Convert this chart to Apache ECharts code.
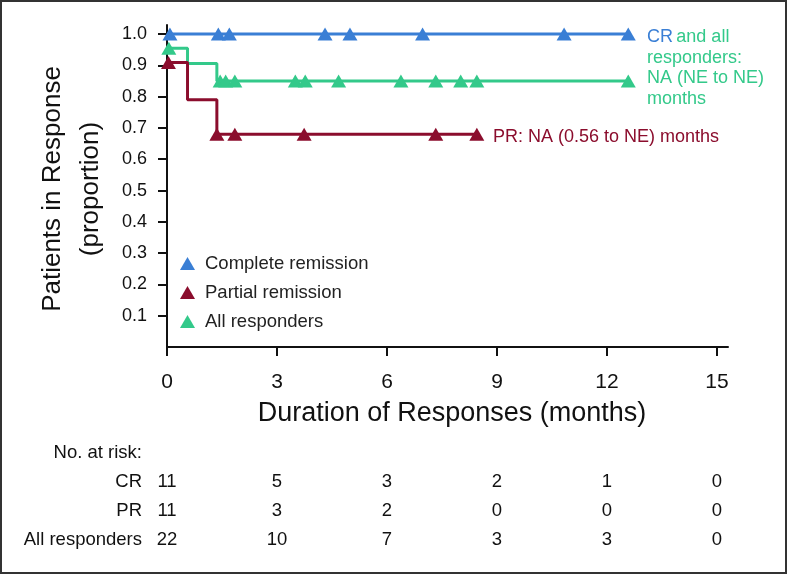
<!DOCTYPE html>
<html>
<head>
<meta charset="utf-8">
<script src="https://cdn.jsdelivr.net/npm/echarts@6/dist/echarts.min.js"></script>
<style>
html,body{margin:0;padding:0;background:#fff;}
#c{width:787px;height:574px;}
</style>
</head>
<body>
<div id="c"></div>
<script>
// ---- data ----
const xTicks = [0, 3, 6, 9, 12, 15];
const yTicks = [0.1, 0.2, 0.3, 0.4, 0.5, 0.6, 0.7, 0.8, 0.9, 1.0];

const crStepTimes = [0, 12.58];
const crStepSurv = [1.0, 1.0];
const crCensorTimes = [0.08, 1.4, 1.7, 4.31, 4.99, 6.97, 10.83, 12.58];

const prStepTimes = [0, 0.56, 1.36, 8.45];
const prStepSurv = [0.909, 0.79, 0.68, 0.68];
const prCensorTimes = [0.04, 1.36, 1.85, 3.74, 7.33, 8.45];

const allStepTimes = [0, 0.56, 1.36, 12.58];
const allStepSurv = [0.955, 0.906, 0.85, 0.85];
const allCensorTimes = [0.05, 1.45, 1.6, 1.85, 3.5, 3.77, 4.68, 6.38, 7.33, 8.01, 8.45, 12.58];

const riskLabels = ['CR', 'PR', 'All responders'];
const riskCR = [11, 5, 3, 2, 1, 0];
const riskPR = [11, 3, 2, 0, 0, 0];
const riskAll = [22, 10, 7, 3, 3, 0];

// ---- helpers ----
const BLUE = '#3a7fd5', RED = '#8b0d2d', GREEN = '#33c98a';
const SANS = "'Liberation Sans', Arial, Helvetica, sans-serif";

function steps(times, surv) { return times.map((t, i) => [t, surv[i]]); }
function survAt(times, surv, t) {
  let v = surv[0];
  for (let i = 0; i < times.length; i++) if (times[i] <= t + 1e-9) v = surv[i];
  return v;
}
function censors(ct, times, surv) { return ct.map(t => [t, survAt(times, surv, t)]); }

const chart = echarts.init(document.getElementById('c'), null, {renderer: 'canvas'});

function lineSeries(name, color, data) {
  return {
    name: name + ' line', type: 'line', step: 'end', data: data,
    symbol: 'none', lineStyle: {color: color, width: 3}, silent: true, z: 2
  };
}
function markSeries(name, color, data) {
  return {
    name: name, type: 'scatter', symbol: 'triangle', symbolSize: [15, 13],
    itemStyle: {color: color, opacity: 1}, data: data, z: 3
  };
}

const option = {
  backgroundColor: '#fff',
  animation: false,
  grid: {left: 167, right: 59, top: 25, bottom: 227, containLabel: false},
  xAxis: {
    type: 'value', min: 0, max: 15.3,
    axisLine: {show: true, lineStyle: {color: '#111', width: 2}},
    axisTick: {show: true, length: 9, lineStyle: {color: '#111', width: 2}, customValues: xTicks},
    axisLabel: {fontFamily: SANS, fontSize: 21, color: '#111', margin: 25, customValues: xTicks},
    splitLine: {show: false}
  },
  yAxis: {
    type: 'value', min: 0, max: 1.029,
    axisLine: {show: true, lineStyle: {color: '#111', width: 2}},
    axisTick: {show: true, length: 9, lineStyle: {color: '#111', width: 2}, customValues: yTicks},
    axisLabel: {fontFamily: SANS, fontSize: 18, color: '#111', margin: 20, customValues: yTicks,
      formatter: v => v.toFixed(1)},
    splitLine: {show: false}
  },
  legend: {
    orient: 'vertical', left: 175, top: 249, itemGap: 10,
    itemWidth: 15, itemHeight: 13,
    data: ['Complete remission', 'Partial remission', 'All responders'],
    textStyle: {fontFamily: SANS, fontSize: 18.5, color: '#222', padding: [0, 0, 0, 5]},
    icon: 'triangle'
  },
  series: [
    lineSeries('All responders', GREEN, steps(allStepTimes, allStepSurv)),
    lineSeries('Partial remission', RED, steps(prStepTimes, prStepSurv)),
    lineSeries('Complete remission', BLUE, steps(crStepTimes, crStepSurv)),
    markSeries('All responders', GREEN, censors(allCensorTimes, allStepTimes, allStepSurv)),
    markSeries('Partial remission', RED, censors(prCensorTimes, prStepTimes, prStepSurv)),
    markSeries('Complete remission', BLUE, censors(crCensorTimes, crStepTimes, crStepSurv))
  ]
};
chart.setOption(option);

// ---- annotations, titles, risk table ----
const g = [];
g.push({type: 'rect', shape: {x: 1, y: 1, width: 785, height: 572},
  style: {fill: 'none', stroke: '#333', lineWidth: 2}, silent: true});
g.push({type: 'text', x: 72, y: 189, rotation: Math.PI / 2,
  style: {text: 'Patients in Response\n(proportion)', fontFamily: SANS, fontSize: 26,
    lineHeight: 38, fill: '#111', align: 'center', verticalAlign: 'middle'}});
g.push({type: 'text', x: 452, y: 414,
  style: {text: 'Duration of Responses (months)', fontFamily: SANS, fontSize: 27,
    fill: '#111', align: 'center', verticalAlign: 'middle'}});
g.push({type: 'text', x: 647, y: 68,
  style: {text: '{b|CR} {g|and all}\n{g|responders:}\n{g|NA (NE to NE)}\n{g|months}',
    verticalAlign: 'middle', align: 'left',
    rich: {b: {fill: BLUE, fontFamily: SANS, fontSize: 18, lineHeight: 20.5},
           g: {fill: GREEN, fontFamily: SANS, fontSize: 18, lineHeight: 20.5}}}});
g.push({type: 'text', x: 493, y: 137,
  style: {text: 'PR: NA (0.56 to NE) months', fill: RED, fontFamily: SANS, fontSize: 18,
    align: 'left', verticalAlign: 'middle'}});

g.push({type: 'text', x: 142, y: 453,
  style: {text: 'No. at risk:', fontFamily: SANS, fontSize: 18.5, fill: '#111', align: 'right', verticalAlign: 'middle'}});
const rows = [riskCR, riskPR, riskAll];
const rowY = [482, 511, 540];
rows.forEach((row, r) => {
  g.push({type: 'text', x: 142, y: rowY[r],
    style: {text: riskLabels[r], fontFamily: SANS, fontSize: 18.5, fill: '#111', align: 'right', verticalAlign: 'middle'}});
  row.forEach((n, i) => {
    const px = chart.convertToPixel({xAxisIndex: 0}, xTicks[i]);
    g.push({type: 'text', x: px, y: rowY[r],
      style: {text: String(n), fontFamily: SANS, fontSize: 18.5, fill: '#111', align: 'center', verticalAlign: 'middle'}});
  });
});
chart.setOption({graphic: g});
</script>
</body>
</html>
